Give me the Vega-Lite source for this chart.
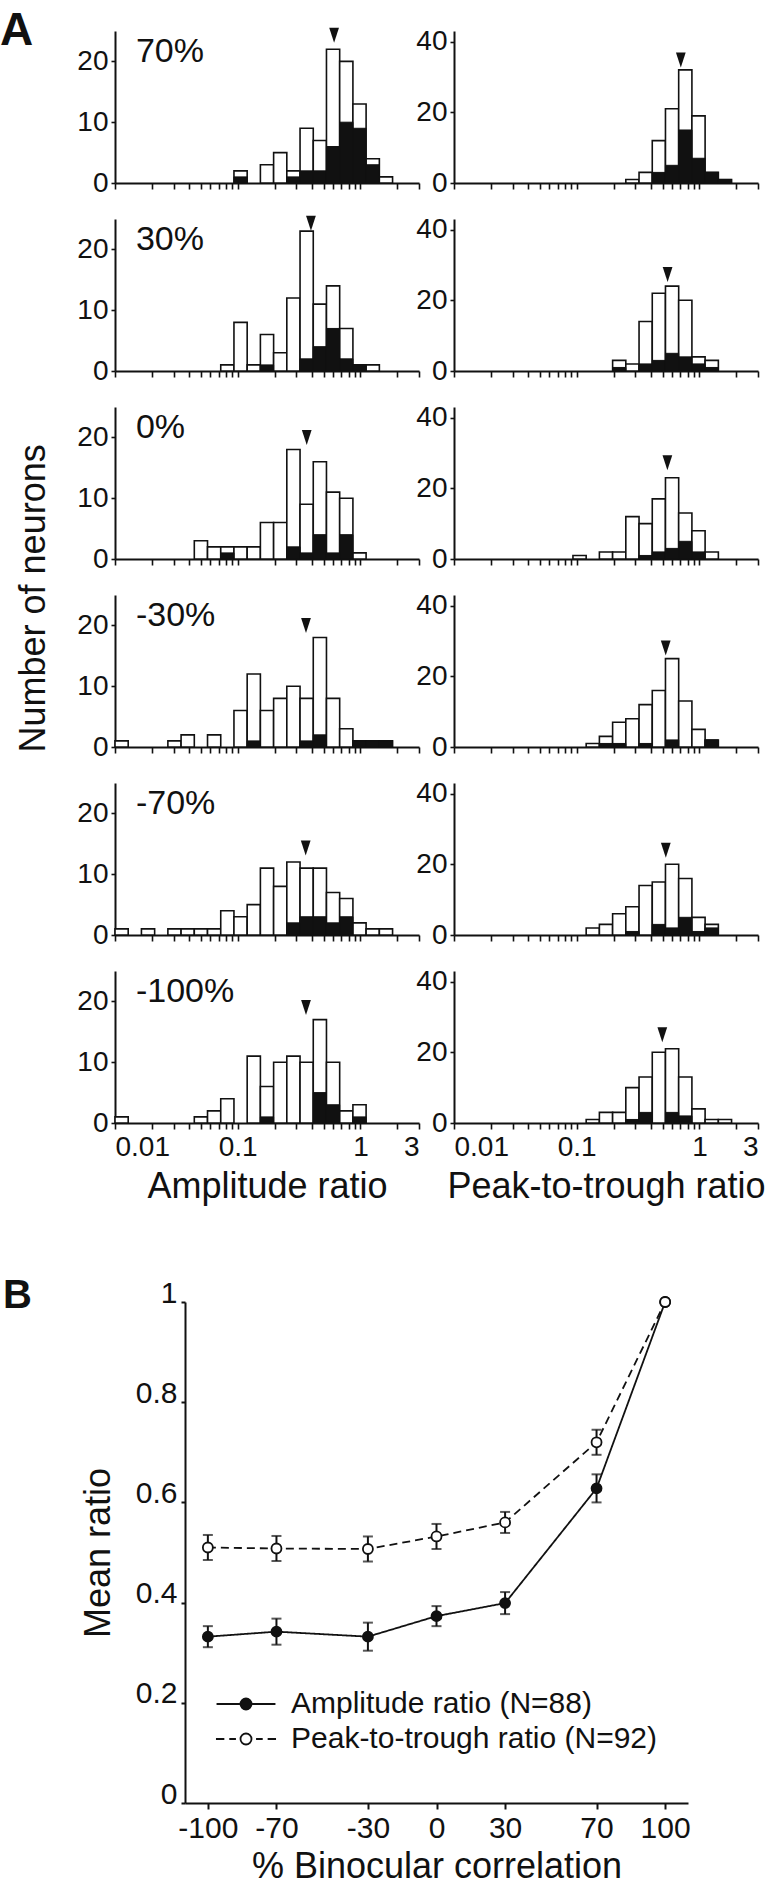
{
  "$schema": "https://vega.github.io/schema/vega-lite/v6.json",
  "background": "white",
  "padding": {"left": 0, "top": 8, "right": 0, "bottom": 0},
  "config": {
    "font": "Liberation Sans",
    "view": {"stroke": null},
    "axis": {"labelFont": "Liberation Sans", "labelFontSize": 28, "labelColor": "#111", "titleFont": "Liberation Sans", "titleFontSize": 36, "titleFontWeight": "normal", "titleColor": "#111", "domainColor": "#111", "domainWidth": 2, "tickColor": "#111", "tickWidth": 1.6, "grid": false, "labelOverlap": false, "labelBound": false},
    "text": {"font": "Liberation Sans", "color": "#111"}
  },
  "datasets": {
    "amp": [
      {"cond":"70%","lo":0.09317,"hi":0.1194,"total":2,"black":1},
      {"cond":"70%","lo":0.153,"hi":0.1961,"total":3,"black":0},
      {"cond":"70%","lo":0.1961,"hi":0.2512,"total":5,"black":0},
      {"cond":"70%","lo":0.2512,"hi":0.322,"total":2,"black":1},
      {"cond":"70%","lo":0.322,"hi":0.4126,"total":9,"black":2},
      {"cond":"70%","lo":0.4126,"hi":0.5286,"total":7,"black":2},
      {"cond":"70%","lo":0.5286,"hi":0.6773,"total":22,"black":6},
      {"cond":"70%","lo":0.6773,"hi":0.8682,"total":20,"black":10},
      {"cond":"70%","lo":0.8682,"hi":1.112,"total":13,"black":9},
      {"cond":"70%","lo":1.112,"hi":1.426,"total":4,"black":3},
      {"cond":"70%","lo":1.426,"hi":1.827,"total":1,"black":0},
      {"cond":"30%","lo":0.07271,"hi":0.09317,"total":1,"black":0},
      {"cond":"30%","lo":0.09317,"hi":0.1194,"total":8,"black":0},
      {"cond":"30%","lo":0.1194,"hi":0.153,"total":1,"black":0},
      {"cond":"30%","lo":0.153,"hi":0.1961,"total":6,"black":1},
      {"cond":"30%","lo":0.1961,"hi":0.2512,"total":3,"black":0},
      {"cond":"30%","lo":0.2512,"hi":0.322,"total":12,"black":0},
      {"cond":"30%","lo":0.322,"hi":0.4126,"total":23,"black":2},
      {"cond":"30%","lo":0.4126,"hi":0.5286,"total":11,"black":4},
      {"cond":"30%","lo":0.5286,"hi":0.6773,"total":14,"black":7},
      {"cond":"30%","lo":0.6773,"hi":0.8682,"total":7,"black":2},
      {"cond":"30%","lo":0.8682,"hi":1.112,"total":1,"black":1},
      {"cond":"30%","lo":1.112,"hi":1.426,"total":1,"black":0},
      {"cond":"0%","lo":0.04428,"hi":0.05674,"total":3,"black":0},
      {"cond":"0%","lo":0.05674,"hi":0.07271,"total":2,"black":0},
      {"cond":"0%","lo":0.07271,"hi":0.09317,"total":2,"black":1},
      {"cond":"0%","lo":0.09317,"hi":0.1194,"total":2,"black":0},
      {"cond":"0%","lo":0.1194,"hi":0.153,"total":2,"black":0},
      {"cond":"0%","lo":0.153,"hi":0.1961,"total":6,"black":0},
      {"cond":"0%","lo":0.1961,"hi":0.2512,"total":6,"black":0},
      {"cond":"0%","lo":0.2512,"hi":0.322,"total":18,"black":2},
      {"cond":"0%","lo":0.322,"hi":0.4126,"total":9,"black":1},
      {"cond":"0%","lo":0.4126,"hi":0.5286,"total":16,"black":4},
      {"cond":"0%","lo":0.5286,"hi":0.6773,"total":11,"black":1},
      {"cond":"0%","lo":0.6773,"hi":0.8682,"total":10,"black":4},
      {"cond":"0%","lo":0.8682,"hi":1.112,"total":1,"black":0},
      {"cond":"-30%","lo":0.01,"hi":0.01281,"total":1,"black":0},
      {"cond":"-30%","lo":0.02697,"hi":0.03455,"total":1,"black":0},
      {"cond":"-30%","lo":0.03455,"hi":0.04428,"total":2,"black":0},
      {"cond":"-30%","lo":0.05674,"hi":0.07271,"total":2,"black":0},
      {"cond":"-30%","lo":0.09317,"hi":0.1194,"total":6,"black":0},
      {"cond":"-30%","lo":0.1194,"hi":0.153,"total":12,"black":1},
      {"cond":"-30%","lo":0.153,"hi":0.1961,"total":6,"black":0},
      {"cond":"-30%","lo":0.1961,"hi":0.2512,"total":8,"black":0},
      {"cond":"-30%","lo":0.2512,"hi":0.322,"total":10,"black":0},
      {"cond":"-30%","lo":0.322,"hi":0.4126,"total":8,"black":1},
      {"cond":"-30%","lo":0.4126,"hi":0.5286,"total":18,"black":2},
      {"cond":"-30%","lo":0.5286,"hi":0.6773,"total":8,"black":0},
      {"cond":"-30%","lo":0.6773,"hi":0.8682,"total":3,"black":0},
      {"cond":"-30%","lo":0.8682,"hi":1.112,"total":1,"black":1},
      {"cond":"-30%","lo":1.112,"hi":1.426,"total":1,"black":1},
      {"cond":"-30%","lo":1.426,"hi":1.827,"total":1,"black":1},
      {"cond":"-70%","lo":0.01,"hi":0.01281,"total":1,"black":0},
      {"cond":"-70%","lo":0.01642,"hi":0.02104,"total":1,"black":0},
      {"cond":"-70%","lo":0.02697,"hi":0.03455,"total":1,"black":0},
      {"cond":"-70%","lo":0.03455,"hi":0.04428,"total":1,"black":0},
      {"cond":"-70%","lo":0.04428,"hi":0.05674,"total":1,"black":0},
      {"cond":"-70%","lo":0.05674,"hi":0.07271,"total":1,"black":0},
      {"cond":"-70%","lo":0.07271,"hi":0.09317,"total":4,"black":0},
      {"cond":"-70%","lo":0.09317,"hi":0.1194,"total":3,"black":0},
      {"cond":"-70%","lo":0.1194,"hi":0.153,"total":5,"black":0},
      {"cond":"-70%","lo":0.153,"hi":0.1961,"total":11,"black":0},
      {"cond":"-70%","lo":0.1961,"hi":0.2512,"total":8,"black":0},
      {"cond":"-70%","lo":0.2512,"hi":0.322,"total":12,"black":2},
      {"cond":"-70%","lo":0.322,"hi":0.4126,"total":11,"black":3},
      {"cond":"-70%","lo":0.4126,"hi":0.5286,"total":11,"black":3},
      {"cond":"-70%","lo":0.5286,"hi":0.6773,"total":7,"black":2},
      {"cond":"-70%","lo":0.6773,"hi":0.8682,"total":6,"black":3},
      {"cond":"-70%","lo":0.8682,"hi":1.112,"total":2,"black":0},
      {"cond":"-70%","lo":1.112,"hi":1.426,"total":1,"black":0},
      {"cond":"-70%","lo":1.426,"hi":1.827,"total":1,"black":0},
      {"cond":"-100%","lo":0.01,"hi":0.01281,"total":1,"black":0},
      {"cond":"-100%","lo":0.04428,"hi":0.05674,"total":1,"black":0},
      {"cond":"-100%","lo":0.05674,"hi":0.07271,"total":2,"black":0},
      {"cond":"-100%","lo":0.07271,"hi":0.09317,"total":4,"black":0},
      {"cond":"-100%","lo":0.1194,"hi":0.153,"total":11,"black":0},
      {"cond":"-100%","lo":0.153,"hi":0.1961,"total":6,"black":1},
      {"cond":"-100%","lo":0.1961,"hi":0.2512,"total":10,"black":0},
      {"cond":"-100%","lo":0.2512,"hi":0.322,"total":11,"black":0},
      {"cond":"-100%","lo":0.322,"hi":0.4126,"total":10,"black":0},
      {"cond":"-100%","lo":0.4126,"hi":0.5286,"total":17,"black":5},
      {"cond":"-100%","lo":0.5286,"hi":0.6773,"total":10,"black":3},
      {"cond":"-100%","lo":0.6773,"hi":0.8682,"total":2,"black":0},
      {"cond":"-100%","lo":0.8682,"hi":1.112,"total":3,"black":1}
    ],
    "ptr": [
      {"cond":"70%","lo":0.2512,"hi":0.322,"total":1,"black":0},
      {"cond":"70%","lo":0.322,"hi":0.4126,"total":3,"black":0},
      {"cond":"70%","lo":0.4126,"hi":0.5286,"total":12,"black":3},
      {"cond":"70%","lo":0.5286,"hi":0.6773,"total":21,"black":5},
      {"cond":"70%","lo":0.6773,"hi":0.8682,"total":32,"black":15},
      {"cond":"70%","lo":0.8682,"hi":1.112,"total":19,"black":7},
      {"cond":"70%","lo":1.112,"hi":1.426,"total":3,"black":3},
      {"cond":"70%","lo":1.426,"hi":1.827,"total":1,"black":1},
      {"cond":"30%","lo":0.1961,"hi":0.2512,"total":3,"black":1},
      {"cond":"30%","lo":0.2512,"hi":0.322,"total":2,"black":0},
      {"cond":"30%","lo":0.322,"hi":0.4126,"total":14,"black":2},
      {"cond":"30%","lo":0.4126,"hi":0.5286,"total":22,"black":3},
      {"cond":"30%","lo":0.5286,"hi":0.6773,"total":24,"black":5},
      {"cond":"30%","lo":0.6773,"hi":0.8682,"total":20,"black":4},
      {"cond":"30%","lo":0.8682,"hi":1.112,"total":4,"black":2},
      {"cond":"30%","lo":1.112,"hi":1.426,"total":3,"black":1},
      {"cond":"0%","lo":0.09317,"hi":0.1194,"total":1,"black":0},
      {"cond":"0%","lo":0.153,"hi":0.1961,"total":2,"black":0},
      {"cond":"0%","lo":0.1961,"hi":0.2512,"total":2,"black":0},
      {"cond":"0%","lo":0.2512,"hi":0.322,"total":12,"black":0},
      {"cond":"0%","lo":0.322,"hi":0.4126,"total":10,"black":1},
      {"cond":"0%","lo":0.4126,"hi":0.5286,"total":17,"black":2},
      {"cond":"0%","lo":0.5286,"hi":0.6773,"total":23,"black":3},
      {"cond":"0%","lo":0.6773,"hi":0.8682,"total":13,"black":5},
      {"cond":"0%","lo":0.8682,"hi":1.112,"total":8,"black":2},
      {"cond":"0%","lo":1.112,"hi":1.426,"total":2,"black":0},
      {"cond":"-30%","lo":0.1194,"hi":0.153,"total":1,"black":0},
      {"cond":"-30%","lo":0.153,"hi":0.1961,"total":3,"black":1},
      {"cond":"-30%","lo":0.1961,"hi":0.2512,"total":7,"black":1},
      {"cond":"-30%","lo":0.2512,"hi":0.322,"total":8,"black":0},
      {"cond":"-30%","lo":0.322,"hi":0.4126,"total":12,"black":1},
      {"cond":"-30%","lo":0.4126,"hi":0.5286,"total":16,"black":0},
      {"cond":"-30%","lo":0.5286,"hi":0.6773,"total":25,"black":2},
      {"cond":"-30%","lo":0.6773,"hi":0.8682,"total":13,"black":0},
      {"cond":"-30%","lo":0.8682,"hi":1.112,"total":5,"black":0},
      {"cond":"-30%","lo":1.112,"hi":1.426,"total":2,"black":2},
      {"cond":"-70%","lo":0.1194,"hi":0.153,"total":2,"black":0},
      {"cond":"-70%","lo":0.153,"hi":0.1961,"total":3,"black":0},
      {"cond":"-70%","lo":0.1961,"hi":0.2512,"total":6,"black":0},
      {"cond":"-70%","lo":0.2512,"hi":0.322,"total":8,"black":1},
      {"cond":"-70%","lo":0.322,"hi":0.4126,"total":14,"black":0},
      {"cond":"-70%","lo":0.4126,"hi":0.5286,"total":15,"black":3},
      {"cond":"-70%","lo":0.5286,"hi":0.6773,"total":20,"black":2},
      {"cond":"-70%","lo":0.6773,"hi":0.8682,"total":16,"black":5},
      {"cond":"-70%","lo":0.8682,"hi":1.112,"total":5,"black":1},
      {"cond":"-70%","lo":1.112,"hi":1.426,"total":3,"black":2},
      {"cond":"-100%","lo":0.1194,"hi":0.153,"total":1,"black":0},
      {"cond":"-100%","lo":0.153,"hi":0.1961,"total":3,"black":0},
      {"cond":"-100%","lo":0.1961,"hi":0.2512,"total":3,"black":0},
      {"cond":"-100%","lo":0.2512,"hi":0.322,"total":10,"black":1},
      {"cond":"-100%","lo":0.322,"hi":0.4126,"total":13,"black":3},
      {"cond":"-100%","lo":0.4126,"hi":0.5286,"total":20,"black":0},
      {"cond":"-100%","lo":0.5286,"hi":0.6773,"total":21,"black":3},
      {"cond":"-100%","lo":0.6773,"hi":0.8682,"total":13,"black":2},
      {"cond":"-100%","lo":0.8682,"hi":1.112,"total":4,"black":0},
      {"cond":"-100%","lo":1.112,"hi":1.426,"total":1,"black":0},
      {"cond":"-100%","lo":1.426,"hi":1.827,"total":1,"black":0}
    ],
    "med": [
      {"measure":"amp","cond":"70%","x":0.61,"y":24.3},
      {"measure":"amp","cond":"30%","x":0.395,"y":24.3},
      {"measure":"amp","cond":"0%","x":0.365,"y":20},
      {"measure":"amp","cond":"-30%","x":0.36,"y":20},
      {"measure":"amp","cond":"-70%","x":0.358,"y":14.3},
      {"measure":"amp","cond":"-100%","x":0.36,"y":19},
      {"measure":"ptr","cond":"70%","x":0.705,"y":34.8},
      {"measure":"ptr","cond":"30%","x":0.55,"y":27.3},
      {"measure":"ptr","cond":"0%","x":0.548,"y":27.2},
      {"measure":"ptr","cond":"-30%","x":0.531,"y":28},
      {"measure":"ptr","cond":"-70%","x":0.532,"y":24},
      {"measure":"ptr","cond":"-100%","x":0.498,"y":25}
    ],
    "means": [
      {"series":"Amplitude ratio (N=88)","corr":-100,"mean":0.332,"err":0.021},
      {"series":"Amplitude ratio (N=88)","corr":-70,"mean":0.342,"err":0.026},
      {"series":"Amplitude ratio (N=88)","corr":-30,"mean":0.332,"err":0.028},
      {"series":"Amplitude ratio (N=88)","corr":0,"mean":0.373,"err":0.02},
      {"series":"Amplitude ratio (N=88)","corr":30,"mean":0.399,"err":0.022},
      {"series":"Amplitude ratio (N=88)","corr":70,"mean":0.628,"err":0.028},
      {"series":"Amplitude ratio (N=88)","corr":100,"mean":1.0,"err":null},
      {"series":"Peak-to-trough ratio (N=92)","corr":-100,"mean":0.51,"err":0.025},
      {"series":"Peak-to-trough ratio (N=92)","corr":-70,"mean":0.508,"err":0.025},
      {"series":"Peak-to-trough ratio (N=92)","corr":-30,"mean":0.507,"err":0.025},
      {"series":"Peak-to-trough ratio (N=92)","corr":0,"mean":0.532,"err":0.025},
      {"series":"Peak-to-trough ratio (N=92)","corr":30,"mean":0.56,"err":0.021},
      {"series":"Peak-to-trough ratio (N=92)","corr":70,"mean":0.72,"err":0.025},
      {"series":"Peak-to-trough ratio (N=92)","corr":100,"mean":1.0,"err":null}
    ]
  },
  "columns": 1,
  "align": "none",
  "spacing": 72,
  "resolve": {"scale": {"shape": "independent", "fill": "independent"}, "legend": {"shape": "independent", "fill": "independent"}},
  "concat": [
    {"hconcat": [
      {"width": 60, "height": 1000, "layer": [
        {"data": {"values": [{"t": "A"}]}, "mark": {"type": "text", "align": "left", "baseline": "alphabetic", "fontSize": 46, "fontWeight": "bold", "color": "#111"},
         "encoding": {"text": {"field": "t"}, "x": {"datum": 0, "type": "quantitative", "scale": {"domain": [0, 1], "nice": false}, "axis": null}, "y": {"datum": 0.9856, "type": "quantitative", "scale": {"domain": [0, 1], "nice": false}, "axis": null}}},
        {"data": {"values": [{"t": "Number of neurons"}]}, "mark": {"type": "text", "align": "center", "baseline": "alphabetic", "fontSize": 36, "angle": 270, "color": "#111"},
         "encoding": {"text": {"field": "t"}, "x": {"datum": 0.75, "type": "quantitative", "axis": null}, "y": {"datum": 0.4326, "type": "quantitative", "axis": null}}}
      ]},
      {
        "columns": 2,
        "spacing": {"row": 18, "column": -12},
        "align": {"row": "each", "column": "all"},
        "concat": [
          {"width": 304, "height": 152, "data": {"name": "amp"}, "layer": [
            {"transform": [{"filter": "datum.cond === '70%'"}], "mark": {"type": "rect", "fill": "white", "stroke": "#111", "strokeWidth": 1.6},
             "encoding": {"x": {"field": "lo", "type": "quantitative", "scale": {"type": "log", "domain": [0.01, 3], "nice": false}, "axis": {"values": [0.01,0.02,0.03,0.04,0.05,0.06,0.07,0.08,0.09,0.1,0.2,0.3,0.4,0.5,0.6,0.7,0.8,0.9,1,2,3], "labels": false, "title": null, "tickSize": 6}},
                          "x2": {"field": "hi"},
                          "y": {"field": "total", "type": "quantitative", "scale": {"domain": [0, 25], "nice": false}, "axis": {"values": [0,5,10,15,20,25], "labelExpr": "datum.value % 10 === 0 ? datum.label : ''", "title": null, "tickSize": 4, "labelPadding": 3, "labelFlush": false}},
                          "y2": {"datum": 0}}},
            {"transform": [{"filter": "datum.cond === '70%' && datum.black > 0"}], "mark": {"type": "rect", "fill": "#111", "stroke": "#111", "strokeWidth": 1},
             "encoding": {"x": {"field": "lo", "type": "quantitative"}, "x2": {"field": "hi"}, "y": {"field": "black", "type": "quantitative"}, "y2": {"datum": 0}}},
            {"data": {"name": "med"}, "transform": [{"filter": "datum.measure === 'amp' && datum.cond === '70%'"}], "mark": {"type": "point", "shape": "M-0.65,-1L0.65,-1L0,1Z", "size": 225, "filled": true, "fill": "#111", "strokeWidth": 0, "opacity": 1},
             "encoding": {"x": {"field": "x", "type": "quantitative"}, "y": {"field": "y", "type": "quantitative"}}},
            {"data": {"values": [{"t": "70%"}]}, "mark": {"type": "text", "align": "left", "baseline": "alphabetic", "fontSize": 34, "color": "#111"},
             "encoding": {"text": {"field": "t"}, "x": {"datum": 0.0148}, "y": {"datum": 19.9}}}
          ]},
          {"width": 304, "height": 152, "data": {"name": "ptr"}, "layer": [
            {"transform": [{"filter": "datum.cond === '70%'"}], "mark": {"type": "rect", "fill": "white", "stroke": "#111", "strokeWidth": 1.6},
             "encoding": {"x": {"field": "lo", "type": "quantitative", "scale": {"type": "log", "domain": [0.01, 3], "nice": false}, "axis": {"values": [0.01,0.02,0.03,0.04,0.05,0.06,0.07,0.08,0.09,0.1,0.2,0.3,0.4,0.5,0.6,0.7,0.8,0.9,1,2,3], "labels": false, "title": null, "tickSize": 6}},
                          "x2": {"field": "hi"},
                          "y": {"field": "total", "type": "quantitative", "scale": {"domain": [0, 43], "nice": false}, "axis": {"values": [0,20,40], "title": null, "tickSize": 4, "labelPadding": 3, "labelFlush": false}},
                          "y2": {"datum": 0}}},
            {"transform": [{"filter": "datum.cond === '70%' && datum.black > 0"}], "mark": {"type": "rect", "fill": "#111", "stroke": "#111", "strokeWidth": 1},
             "encoding": {"x": {"field": "lo", "type": "quantitative"}, "x2": {"field": "hi"}, "y": {"field": "black", "type": "quantitative"}, "y2": {"datum": 0}}},
            {"data": {"name": "med"}, "transform": [{"filter": "datum.measure === 'ptr' && datum.cond === '70%'"}], "mark": {"type": "point", "shape": "M-0.65,-1L0.65,-1L0,1Z", "size": 225, "filled": true, "fill": "#111", "strokeWidth": 0, "opacity": 1},
             "encoding": {"x": {"field": "x", "type": "quantitative"}, "y": {"field": "y", "type": "quantitative"}}}
          ]},
          {"width": 304, "height": 152, "data": {"name": "amp"}, "layer": [
            {"transform": [{"filter": "datum.cond === '30%'"}], "mark": {"type": "rect", "fill": "white", "stroke": "#111", "strokeWidth": 1.6},
             "encoding": {"x": {"field": "lo", "type": "quantitative", "scale": {"type": "log", "domain": [0.01, 3], "nice": false}, "axis": {"values": [0.01,0.02,0.03,0.04,0.05,0.06,0.07,0.08,0.09,0.1,0.2,0.3,0.4,0.5,0.6,0.7,0.8,0.9,1,2,3], "labels": false, "title": null, "tickSize": 6}},
                          "x2": {"field": "hi"},
                          "y": {"field": "total", "type": "quantitative", "scale": {"domain": [0, 25], "nice": false}, "axis": {"values": [0,5,10,15,20,25], "labelExpr": "datum.value % 10 === 0 ? datum.label : ''", "title": null, "tickSize": 4, "labelPadding": 3, "labelFlush": false}},
                          "y2": {"datum": 0}}},
            {"transform": [{"filter": "datum.cond === '30%' && datum.black > 0"}], "mark": {"type": "rect", "fill": "#111", "stroke": "#111", "strokeWidth": 1},
             "encoding": {"x": {"field": "lo", "type": "quantitative"}, "x2": {"field": "hi"}, "y": {"field": "black", "type": "quantitative"}, "y2": {"datum": 0}}},
            {"data": {"name": "med"}, "transform": [{"filter": "datum.measure === 'amp' && datum.cond === '30%'"}], "mark": {"type": "point", "shape": "M-0.65,-1L0.65,-1L0,1Z", "size": 225, "filled": true, "fill": "#111", "strokeWidth": 0, "opacity": 1},
             "encoding": {"x": {"field": "x", "type": "quantitative"}, "y": {"field": "y", "type": "quantitative"}}},
            {"data": {"values": [{"t": "30%"}]}, "mark": {"type": "text", "align": "left", "baseline": "alphabetic", "fontSize": 34, "color": "#111"},
             "encoding": {"text": {"field": "t"}, "x": {"datum": 0.0148}, "y": {"datum": 19.9}}}
          ]},
          {"width": 304, "height": 152, "data": {"name": "ptr"}, "layer": [
            {"transform": [{"filter": "datum.cond === '30%'"}], "mark": {"type": "rect", "fill": "white", "stroke": "#111", "strokeWidth": 1.6},
             "encoding": {"x": {"field": "lo", "type": "quantitative", "scale": {"type": "log", "domain": [0.01, 3], "nice": false}, "axis": {"values": [0.01,0.02,0.03,0.04,0.05,0.06,0.07,0.08,0.09,0.1,0.2,0.3,0.4,0.5,0.6,0.7,0.8,0.9,1,2,3], "labels": false, "title": null, "tickSize": 6}},
                          "x2": {"field": "hi"},
                          "y": {"field": "total", "type": "quantitative", "scale": {"domain": [0, 43], "nice": false}, "axis": {"values": [0,20,40], "title": null, "tickSize": 4, "labelPadding": 3, "labelFlush": false}},
                          "y2": {"datum": 0}}},
            {"transform": [{"filter": "datum.cond === '30%' && datum.black > 0"}], "mark": {"type": "rect", "fill": "#111", "stroke": "#111", "strokeWidth": 1},
             "encoding": {"x": {"field": "lo", "type": "quantitative"}, "x2": {"field": "hi"}, "y": {"field": "black", "type": "quantitative"}, "y2": {"datum": 0}}},
            {"data": {"name": "med"}, "transform": [{"filter": "datum.measure === 'ptr' && datum.cond === '30%'"}], "mark": {"type": "point", "shape": "M-0.65,-1L0.65,-1L0,1Z", "size": 225, "filled": true, "fill": "#111", "strokeWidth": 0, "opacity": 1},
             "encoding": {"x": {"field": "x", "type": "quantitative"}, "y": {"field": "y", "type": "quantitative"}}}
          ]},
          {"width": 304, "height": 152, "data": {"name": "amp"}, "layer": [
            {"transform": [{"filter": "datum.cond === '0%'"}], "mark": {"type": "rect", "fill": "white", "stroke": "#111", "strokeWidth": 1.6},
             "encoding": {"x": {"field": "lo", "type": "quantitative", "scale": {"type": "log", "domain": [0.01, 3], "nice": false}, "axis": {"values": [0.01,0.02,0.03,0.04,0.05,0.06,0.07,0.08,0.09,0.1,0.2,0.3,0.4,0.5,0.6,0.7,0.8,0.9,1,2,3], "labels": false, "title": null, "tickSize": 6}},
                          "x2": {"field": "hi"},
                          "y": {"field": "total", "type": "quantitative", "scale": {"domain": [0, 25], "nice": false}, "axis": {"values": [0,5,10,15,20,25], "labelExpr": "datum.value % 10 === 0 ? datum.label : ''", "title": null, "tickSize": 4, "labelPadding": 3, "labelFlush": false}},
                          "y2": {"datum": 0}}},
            {"transform": [{"filter": "datum.cond === '0%' && datum.black > 0"}], "mark": {"type": "rect", "fill": "#111", "stroke": "#111", "strokeWidth": 1},
             "encoding": {"x": {"field": "lo", "type": "quantitative"}, "x2": {"field": "hi"}, "y": {"field": "black", "type": "quantitative"}, "y2": {"datum": 0}}},
            {"data": {"name": "med"}, "transform": [{"filter": "datum.measure === 'amp' && datum.cond === '0%'"}], "mark": {"type": "point", "shape": "M-0.65,-1L0.65,-1L0,1Z", "size": 225, "filled": true, "fill": "#111", "strokeWidth": 0, "opacity": 1},
             "encoding": {"x": {"field": "x", "type": "quantitative"}, "y": {"field": "y", "type": "quantitative"}}},
            {"data": {"values": [{"t": "0%"}]}, "mark": {"type": "text", "align": "left", "baseline": "alphabetic", "fontSize": 34, "color": "#111"},
             "encoding": {"text": {"field": "t"}, "x": {"datum": 0.0148}, "y": {"datum": 19.9}}}
          ]},
          {"width": 304, "height": 152, "data": {"name": "ptr"}, "layer": [
            {"transform": [{"filter": "datum.cond === '0%'"}], "mark": {"type": "rect", "fill": "white", "stroke": "#111", "strokeWidth": 1.6},
             "encoding": {"x": {"field": "lo", "type": "quantitative", "scale": {"type": "log", "domain": [0.01, 3], "nice": false}, "axis": {"values": [0.01,0.02,0.03,0.04,0.05,0.06,0.07,0.08,0.09,0.1,0.2,0.3,0.4,0.5,0.6,0.7,0.8,0.9,1,2,3], "labels": false, "title": null, "tickSize": 6}},
                          "x2": {"field": "hi"},
                          "y": {"field": "total", "type": "quantitative", "scale": {"domain": [0, 43], "nice": false}, "axis": {"values": [0,20,40], "title": null, "tickSize": 4, "labelPadding": 3, "labelFlush": false}},
                          "y2": {"datum": 0}}},
            {"transform": [{"filter": "datum.cond === '0%' && datum.black > 0"}], "mark": {"type": "rect", "fill": "#111", "stroke": "#111", "strokeWidth": 1},
             "encoding": {"x": {"field": "lo", "type": "quantitative"}, "x2": {"field": "hi"}, "y": {"field": "black", "type": "quantitative"}, "y2": {"datum": 0}}},
            {"data": {"name": "med"}, "transform": [{"filter": "datum.measure === 'ptr' && datum.cond === '0%'"}], "mark": {"type": "point", "shape": "M-0.65,-1L0.65,-1L0,1Z", "size": 225, "filled": true, "fill": "#111", "strokeWidth": 0, "opacity": 1},
             "encoding": {"x": {"field": "x", "type": "quantitative"}, "y": {"field": "y", "type": "quantitative"}}}
          ]},
          {"width": 304, "height": 152, "data": {"name": "amp"}, "layer": [
            {"transform": [{"filter": "datum.cond === '-30%'"}], "mark": {"type": "rect", "fill": "white", "stroke": "#111", "strokeWidth": 1.6},
             "encoding": {"x": {"field": "lo", "type": "quantitative", "scale": {"type": "log", "domain": [0.01, 3], "nice": false}, "axis": {"values": [0.01,0.02,0.03,0.04,0.05,0.06,0.07,0.08,0.09,0.1,0.2,0.3,0.4,0.5,0.6,0.7,0.8,0.9,1,2,3], "labels": false, "title": null, "tickSize": 6}},
                          "x2": {"field": "hi"},
                          "y": {"field": "total", "type": "quantitative", "scale": {"domain": [0, 25], "nice": false}, "axis": {"values": [0,5,10,15,20,25], "labelExpr": "datum.value % 10 === 0 ? datum.label : ''", "title": null, "tickSize": 4, "labelPadding": 3, "labelFlush": false}},
                          "y2": {"datum": 0}}},
            {"transform": [{"filter": "datum.cond === '-30%' && datum.black > 0"}], "mark": {"type": "rect", "fill": "#111", "stroke": "#111", "strokeWidth": 1},
             "encoding": {"x": {"field": "lo", "type": "quantitative"}, "x2": {"field": "hi"}, "y": {"field": "black", "type": "quantitative"}, "y2": {"datum": 0}}},
            {"data": {"name": "med"}, "transform": [{"filter": "datum.measure === 'amp' && datum.cond === '-30%'"}], "mark": {"type": "point", "shape": "M-0.65,-1L0.65,-1L0,1Z", "size": 225, "filled": true, "fill": "#111", "strokeWidth": 0, "opacity": 1},
             "encoding": {"x": {"field": "x", "type": "quantitative"}, "y": {"field": "y", "type": "quantitative"}}},
            {"data": {"values": [{"t": "-30%"}]}, "mark": {"type": "text", "align": "left", "baseline": "alphabetic", "fontSize": 34, "color": "#111"},
             "encoding": {"text": {"field": "t"}, "x": {"datum": 0.0148}, "y": {"datum": 19.9}}}
          ]},
          {"width": 304, "height": 152, "data": {"name": "ptr"}, "layer": [
            {"transform": [{"filter": "datum.cond === '-30%'"}], "mark": {"type": "rect", "fill": "white", "stroke": "#111", "strokeWidth": 1.6},
             "encoding": {"x": {"field": "lo", "type": "quantitative", "scale": {"type": "log", "domain": [0.01, 3], "nice": false}, "axis": {"values": [0.01,0.02,0.03,0.04,0.05,0.06,0.07,0.08,0.09,0.1,0.2,0.3,0.4,0.5,0.6,0.7,0.8,0.9,1,2,3], "labels": false, "title": null, "tickSize": 6}},
                          "x2": {"field": "hi"},
                          "y": {"field": "total", "type": "quantitative", "scale": {"domain": [0, 43], "nice": false}, "axis": {"values": [0,20,40], "title": null, "tickSize": 4, "labelPadding": 3, "labelFlush": false}},
                          "y2": {"datum": 0}}},
            {"transform": [{"filter": "datum.cond === '-30%' && datum.black > 0"}], "mark": {"type": "rect", "fill": "#111", "stroke": "#111", "strokeWidth": 1},
             "encoding": {"x": {"field": "lo", "type": "quantitative"}, "x2": {"field": "hi"}, "y": {"field": "black", "type": "quantitative"}, "y2": {"datum": 0}}},
            {"data": {"name": "med"}, "transform": [{"filter": "datum.measure === 'ptr' && datum.cond === '-30%'"}], "mark": {"type": "point", "shape": "M-0.65,-1L0.65,-1L0,1Z", "size": 225, "filled": true, "fill": "#111", "strokeWidth": 0, "opacity": 1},
             "encoding": {"x": {"field": "x", "type": "quantitative"}, "y": {"field": "y", "type": "quantitative"}}}
          ]},
          {"width": 304, "height": 152, "data": {"name": "amp"}, "layer": [
            {"transform": [{"filter": "datum.cond === '-70%'"}], "mark": {"type": "rect", "fill": "white", "stroke": "#111", "strokeWidth": 1.6},
             "encoding": {"x": {"field": "lo", "type": "quantitative", "scale": {"type": "log", "domain": [0.01, 3], "nice": false}, "axis": {"values": [0.01,0.02,0.03,0.04,0.05,0.06,0.07,0.08,0.09,0.1,0.2,0.3,0.4,0.5,0.6,0.7,0.8,0.9,1,2,3], "labels": false, "title": null, "tickSize": 6}},
                          "x2": {"field": "hi"},
                          "y": {"field": "total", "type": "quantitative", "scale": {"domain": [0, 25], "nice": false}, "axis": {"values": [0,5,10,15,20,25], "labelExpr": "datum.value % 10 === 0 ? datum.label : ''", "title": null, "tickSize": 4, "labelPadding": 3, "labelFlush": false}},
                          "y2": {"datum": 0}}},
            {"transform": [{"filter": "datum.cond === '-70%' && datum.black > 0"}], "mark": {"type": "rect", "fill": "#111", "stroke": "#111", "strokeWidth": 1},
             "encoding": {"x": {"field": "lo", "type": "quantitative"}, "x2": {"field": "hi"}, "y": {"field": "black", "type": "quantitative"}, "y2": {"datum": 0}}},
            {"data": {"name": "med"}, "transform": [{"filter": "datum.measure === 'amp' && datum.cond === '-70%'"}], "mark": {"type": "point", "shape": "M-0.65,-1L0.65,-1L0,1Z", "size": 225, "filled": true, "fill": "#111", "strokeWidth": 0, "opacity": 1},
             "encoding": {"x": {"field": "x", "type": "quantitative"}, "y": {"field": "y", "type": "quantitative"}}},
            {"data": {"values": [{"t": "-70%"}]}, "mark": {"type": "text", "align": "left", "baseline": "alphabetic", "fontSize": 34, "color": "#111"},
             "encoding": {"text": {"field": "t"}, "x": {"datum": 0.0148}, "y": {"datum": 19.9}}}
          ]},
          {"width": 304, "height": 152, "data": {"name": "ptr"}, "layer": [
            {"transform": [{"filter": "datum.cond === '-70%'"}], "mark": {"type": "rect", "fill": "white", "stroke": "#111", "strokeWidth": 1.6},
             "encoding": {"x": {"field": "lo", "type": "quantitative", "scale": {"type": "log", "domain": [0.01, 3], "nice": false}, "axis": {"values": [0.01,0.02,0.03,0.04,0.05,0.06,0.07,0.08,0.09,0.1,0.2,0.3,0.4,0.5,0.6,0.7,0.8,0.9,1,2,3], "labels": false, "title": null, "tickSize": 6}},
                          "x2": {"field": "hi"},
                          "y": {"field": "total", "type": "quantitative", "scale": {"domain": [0, 43], "nice": false}, "axis": {"values": [0,20,40], "title": null, "tickSize": 4, "labelPadding": 3, "labelFlush": false}},
                          "y2": {"datum": 0}}},
            {"transform": [{"filter": "datum.cond === '-70%' && datum.black > 0"}], "mark": {"type": "rect", "fill": "#111", "stroke": "#111", "strokeWidth": 1},
             "encoding": {"x": {"field": "lo", "type": "quantitative"}, "x2": {"field": "hi"}, "y": {"field": "black", "type": "quantitative"}, "y2": {"datum": 0}}},
            {"data": {"name": "med"}, "transform": [{"filter": "datum.measure === 'ptr' && datum.cond === '-70%'"}], "mark": {"type": "point", "shape": "M-0.65,-1L0.65,-1L0,1Z", "size": 225, "filled": true, "fill": "#111", "strokeWidth": 0, "opacity": 1},
             "encoding": {"x": {"field": "x", "type": "quantitative"}, "y": {"field": "y", "type": "quantitative"}}}
          ]},
          {"width": 304, "height": 152, "data": {"name": "amp"}, "layer": [
            {"transform": [{"filter": "datum.cond === '-100%'"}], "mark": {"type": "rect", "fill": "white", "stroke": "#111", "strokeWidth": 1.6},
             "encoding": {"x": {"field": "lo", "type": "quantitative", "scale": {"type": "log", "domain": [0.01, 3], "nice": false}, "axis": {"values": [0.01,0.02,0.03,0.04,0.05,0.06,0.07,0.08,0.09,0.1,0.2,0.3,0.4,0.5,0.6,0.7,0.8,0.9,1,2,3], "labelExpr": "datum.value === 0.01 ? '0.01' : datum.value === 0.1 ? '0.1' : datum.value === 1 ? '1' : datum.value === 3 ? '3' : ''", "title": "Amplitude ratio", "tickSize": 6, "labelPadding": 4, "titlePadding": 8}},
                          "x2": {"field": "hi"},
                          "y": {"field": "total", "type": "quantitative", "scale": {"domain": [0, 25], "nice": false}, "axis": {"values": [0,5,10,15,20,25], "labelExpr": "datum.value % 10 === 0 ? datum.label : ''", "title": null, "tickSize": 4, "labelPadding": 3, "labelFlush": false}},
                          "y2": {"datum": 0}}},
            {"transform": [{"filter": "datum.cond === '-100%' && datum.black > 0"}], "mark": {"type": "rect", "fill": "#111", "stroke": "#111", "strokeWidth": 1},
             "encoding": {"x": {"field": "lo", "type": "quantitative"}, "x2": {"field": "hi"}, "y": {"field": "black", "type": "quantitative"}, "y2": {"datum": 0}}},
            {"data": {"name": "med"}, "transform": [{"filter": "datum.measure === 'amp' && datum.cond === '-100%'"}], "mark": {"type": "point", "shape": "M-0.65,-1L0.65,-1L0,1Z", "size": 225, "filled": true, "fill": "#111", "strokeWidth": 0, "opacity": 1},
             "encoding": {"x": {"field": "x", "type": "quantitative"}, "y": {"field": "y", "type": "quantitative"}}},
            {"data": {"values": [{"t": "-100%"}]}, "mark": {"type": "text", "align": "left", "baseline": "alphabetic", "fontSize": 34, "color": "#111"},
             "encoding": {"text": {"field": "t"}, "x": {"datum": 0.0148}, "y": {"datum": 19.9}}}
          ]},
          {"width": 304, "height": 152, "data": {"name": "ptr"}, "layer": [
            {"transform": [{"filter": "datum.cond === '-100%'"}], "mark": {"type": "rect", "fill": "white", "stroke": "#111", "strokeWidth": 1.6},
             "encoding": {"x": {"field": "lo", "type": "quantitative", "scale": {"type": "log", "domain": [0.01, 3], "nice": false}, "axis": {"values": [0.01,0.02,0.03,0.04,0.05,0.06,0.07,0.08,0.09,0.1,0.2,0.3,0.4,0.5,0.6,0.7,0.8,0.9,1,2,3], "labelExpr": "datum.value === 0.01 ? '0.01' : datum.value === 0.1 ? '0.1' : datum.value === 1 ? '1' : datum.value === 3 ? '3' : ''", "title": "Peak-to-trough ratio", "tickSize": 6, "labelPadding": 4, "titlePadding": 8}},
                          "x2": {"field": "hi"},
                          "y": {"field": "total", "type": "quantitative", "scale": {"domain": [0, 43], "nice": false}, "axis": {"values": [0,20,40], "title": null, "tickSize": 4, "labelPadding": 3, "labelFlush": false}},
                          "y2": {"datum": 0}}},
            {"transform": [{"filter": "datum.cond === '-100%' && datum.black > 0"}], "mark": {"type": "rect", "fill": "#111", "stroke": "#111", "strokeWidth": 1},
             "encoding": {"x": {"field": "lo", "type": "quantitative"}, "x2": {"field": "hi"}, "y": {"field": "black", "type": "quantitative"}, "y2": {"datum": 0}}},
            {"data": {"name": "med"}, "transform": [{"filter": "datum.measure === 'ptr' && datum.cond === '-100%'"}], "mark": {"type": "point", "shape": "M-0.65,-1L0.65,-1L0,1Z", "size": 225, "filled": true, "fill": "#111", "strokeWidth": 0, "opacity": 1},
             "encoding": {"x": {"field": "x", "type": "quantitative"}, "y": {"field": "y", "type": "quantitative"}}}
          ]}
        ]
      }
    ], "spacing": 16},
    {"hconcat": [
      {"width": 40, "height": 40, "layer": [
        {"data": {"values": [{"t": "B"}]}, "mark": {"type": "text", "align": "left", "baseline": "alphabetic", "fontSize": 40, "fontWeight": "bold", "color": "#111"},
         "encoding": {"text": {"field": "t"}, "x": {"datum": 0.075, "type": "quantitative", "scale": {"domain": [0, 1], "nice": false}, "axis": null}, "y": {"datum": 0.85, "type": "quantitative", "scale": {"domain": [0, 1], "nice": false}, "axis": null}}}
      ]},
      {
        "width": 503, "height": 501,
        "data": {"name": "means"},
        "layer": [
          {"mark": {"type": "line", "color": "#111", "strokeWidth": 1.8},
           "encoding": {
             "x": {"field": "corr", "type": "quantitative", "scale": {"domain": [-110, 110], "nice": false}, "axis": {"values": [-100,-70,-30,0,30,70,100], "labelExpr": "'' + datum.value", "title": "% Binocular correlation", "tickSize": 6, "labelPadding": 4, "labelFontSize": 30, "titlePadding": 6, "labelFlush": false, "tickWidth": 2}},
             "y": {"field": "mean", "type": "quantitative", "scale": {"domain": [0, 1], "nice": false}, "axis": {"values": [0,0.2,0.4,0.6,0.8,1], "format": "~g", "title": "Mean ratio", "tickSize": 4, "labelPadding": 4, "labelFontSize": 30, "labelBaseline": "alphabetic", "labelFlush": false, "titlePadding": 18, "tickWidth": 2}},
             "detail": {"field": "series"},
             "strokeDash": {"condition": {"test": "datum.series === 'Peak-to-trough ratio (N=92)'", "value": [8, 5]}, "value": [1, 0]}}},
          {"transform": [{"filter": "isValid(datum.err)"}],
           "mark": {"type": "errorbar", "ticks": {"size": 10, "thickness": 2, "color": "#111"}, "rule": {"strokeWidth": 2, "color": "#111"}},
           "encoding": {"x": {"field": "corr", "type": "quantitative", "title": "% Binocular correlation"}, "y": {"field": "mean", "type": "quantitative", "title": "Mean ratio"}, "yError": {"field": "err"}}},
          {"mark": {"type": "point", "shape": "circle", "filled": true, "size": 100, "stroke": "#111", "strokeWidth": 1.8, "opacity": 1},
           "encoding": {"x": {"field": "corr", "type": "quantitative"}, "y": {"field": "mean", "type": "quantitative"},
             "fill": {"condition": {"test": "datum.series === 'Amplitude ratio (N=88)'", "value": "#111"}, "value": "white"}}},
          {"mark": {"type": "point", "filled": true, "opacity": 0, "size": 10},
           "encoding": {"x": {"field": "corr", "type": "quantitative"}, "y": {"field": "mean", "type": "quantitative"},
             "shape": {"field": "series", "type": "nominal", "scale": {"range": ["M-1.55,0L-0.29,0M0.29,0L1.55,0M-0.29,0A0.29,0.29,0,1,1,0.29,0A0.29,0.29,0,1,1,-0.29,0Z", "M-1.58,0L-1.14,0M-0.88,0L-0.53,0M0.53,0L0.88,0M1.14,0L1.58,0M-0.29,0A0.29,0.29,0,1,1,0.29,0A0.29,0.29,0,1,1,-0.29,0Z"]},
               "legend": {"orient": "none", "legendX": 41, "legendY": 382, "title": null, "symbolSize": 1444, "labelFontSize": 30, "labelFont": "Liberation Sans", "labelColor": "#111", "labelOffset": 25, "rowPadding": 0, "padding": 0, "labelLimit": 600, "symbolStrokeWidth": 1.8, "symbolStrokeColor": "#111", "encode": {"symbols": {"update": {"stroke": {"value": "#111"}, "strokeWidth": {"value": 1.8}, "opacity": {"value": 1}}}}}},
             "fill": {"field": "series", "type": "nominal", "scale": {"range": ["#111", "white"]},
               "legend": {"orient": "none", "legendX": 41, "legendY": 382, "title": null, "symbolSize": 1444, "labelFontSize": 30, "labelFont": "Liberation Sans", "labelColor": "#111", "labelOffset": 25, "rowPadding": 0, "padding": 0, "labelLimit": 600, "symbolStrokeWidth": 1.8, "symbolStrokeColor": "#111", "encode": {"symbols": {"update": {"stroke": {"value": "#111"}, "strokeWidth": {"value": 1.8}, "opacity": {"value": 1}}}}}}}}
        ]
      }
    ], "spacing": 40, "resolve": {"scale": {"shape": "independent", "fill": "independent"}, "legend": {"shape": "independent", "fill": "independent"}}}
  ]
}
